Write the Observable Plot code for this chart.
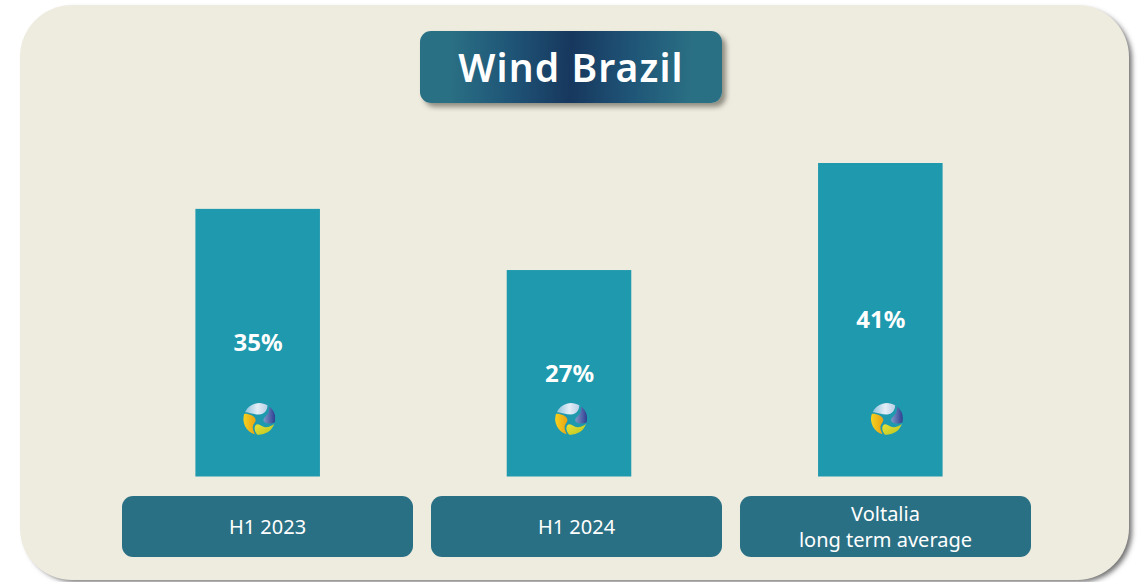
<!DOCTYPE html>
<html>
<head>
<meta charset="utf-8">
<script src="https://cdn.jsdelivr.net/npm/d3@7"></script>
<script src="https://cdn.jsdelivr.net/npm/@observablehq/plot@0.6"></script>
<style>
html,body{margin:0;padding:0;background:#fff;width:1140px;height:582px;overflow:hidden;}
#stage{position:relative;width:1140px;height:582px;font-family:"Noto Sans",sans-serif;color:#fff;}
#panel{position:absolute;left:20px;top:5px;width:1109px;height:575px;border-radius:52px;background:#eeebdf;box-shadow:4px 3px 5px -1px rgba(80,80,80,.8);}
#title{position:absolute;left:420px;top:31px;width:302px;height:72px;border-radius:11px;
background:linear-gradient(92deg,#2a7084 0%,#2a7084 10%,#1f5577 30%,#17375e 50%,#1f5577 70%,#2a7084 90%,#2a7084 100%);
box-shadow:4px 4px 5px rgba(80,80,70,.6);display:flex;align-items:center;justify-content:center;
font-size:39px;font-weight:600;letter-spacing:1.1px;padding-bottom:2px;box-sizing:border-box;}
.pill{position:absolute;top:496px;width:291px;height:61px;border-radius:11px;background:#2a7084;display:flex;align-items:center;justify-content:center;text-align:center;font-size:20px;line-height:26px;}
#chart{position:absolute;left:0;top:0;}
</style>
</head>
<body>
<div id="stage">
  <div id="panel"></div>
  <div id="title">Wind Brazil</div>
  <div id="chart"></div>
</div>
<script>
const chartTitle = "Wind Brazil";
const categories = ["H1 2023", "H1 2024", "Voltalia long term average"];
const values = [35, 27, 41];
const valueLabels = ["35%", "27%", "41%"];
const pillLabels = [["H1 2023"], ["H1 2024"], ["Voltalia", "long term average"]];
const pillLefts = [122, 431, 740];
const logoOffsets = [1, 1.5, 6];

const rows = categories.map((category, i) => ({category, value: values[i], label: valueLabels[i], offset: logoOffsets[i]}));

const logoSvg = `<svg xmlns="http://www.w3.org/2000/svg" viewBox="0 0 100 100">
<defs>
<linearGradient id="a" x1="0" y1="0.2" x2="1" y2="0.2"><stop offset="0" stop-color="#8fc3dc"/><stop offset=".55" stop-color="#e4eef6"/><stop offset="1" stop-color="#b9cfe6"/></linearGradient>
<linearGradient id="b" x1="0" y1="0" x2="1" y2="0"><stop offset="0" stop-color="#7f97c8"/><stop offset="1" stop-color="#2d3f91"/></linearGradient>
<linearGradient id="c" x1="0" y1="0" x2="1" y2="0"><stop offset="0" stop-color="#f6d21e"/><stop offset="1" stop-color="#e8a214"/></linearGradient>
<linearGradient id="d" x1="0" y1="0" x2="1" y2="1"><stop offset="0" stop-color="#e8e23a"/><stop offset="1" stop-color="#b9c41e"/></linearGradient>
</defs>
<path d="M6 28 A50 50 0 0 1 76 7 C76 22 66 36 50 36 C34 36 20 30 6 28Z" fill="url(#a)"/>
<path d="M82 11 A50 50 0 0 1 99 60 C90 66 70 66 64 56 C60 46 76 40 80 28 C81 22 82 16 82 11Z" fill="url(#b)"/>
<path d="M3 34 C18 33 36 40 39 52 C40 60 32 64 30 74 C30 84 33 90 37 98 A50 50 0 0 1 3 34Z" fill="url(#c)"/>
<path d="M38 70 C48 60 58 76 70 76 C80 76 90 72 97 66 A50 50 0 0 1 44 99 C36 90 33 78 38 70Z" fill="url(#d)"/>
</svg>`;
const logoSrc = "data:image/svg+xml;utf8," + encodeURIComponent(logoSvg);

const stage = document.getElementById("stage");
pillLabels.forEach((lines, i) => {
  const pill = document.createElement("div");
  pill.className = "pill";
  pill.style.left = pillLefts[i] + "px";
  pill.innerHTML = lines.join("<br>");
  stage.appendChild(pill);
});

const chart = Plot.plot({
  width: 1140,
  height: 582,
  marginLeft: 102,
  marginRight: 104,
  marginTop: 163,
  marginBottom: 105.5,
  style: {background: "transparent", overflow: "visible"},
  x: {type: "band", domain: categories, paddingInner: 0.6, paddingOuter: 0.3, round: false, axis: null},
  y: {domain: [0, 41], axis: null},
  marks: [
    Plot.barY(rows, {x: "category", y: "value", fill: "#1f99ad"}),
    Plot.text(rows, {x: "category", y: d => d.value / 2, text: "label", fill: "#fff", dx: 0, dy: 0.5,
      fontSize: 24, fontWeight: 700, fontFamily: '"Noto Sans",sans-serif', letterSpacing: 0.5}),
    ...rows.map(r => Plot.image([r], {x: "category", frameAnchor: "bottom", dy: -58, dx: r.offset,
      width: 32, height: 32, src: () => logoSrc}))
  ]
});
document.getElementById("chart").appendChild(chart);
</script>
</body>
</html>
